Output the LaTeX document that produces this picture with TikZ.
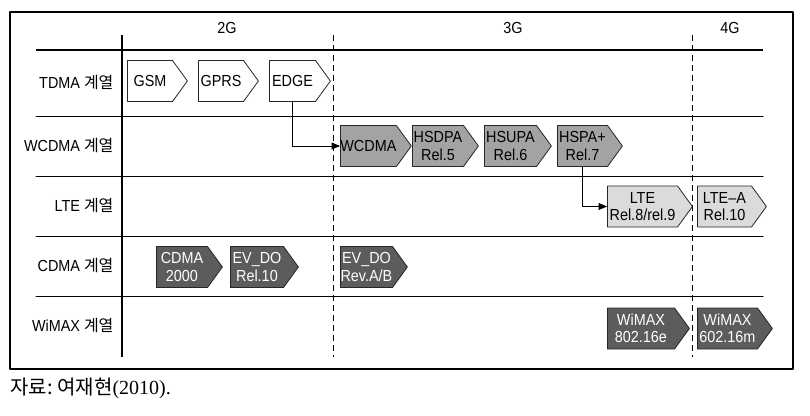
\documentclass[tikz,border=0pt]{standalone}
\usepackage{fontspec}
\setsansfont{Liberation Sans}[FakeStretch=0.9]
\newfontfamily\krfont{Noto Sans CJK KR}
\newfontfamily\capfont{Liberation Serif}
\usepackage{tikz}
\usetikzlibrary{arrows,shapes.symbols}
\definecolor{wgray}{gray}{0.64}
\definecolor{lgray}{gray}{0.86}
\definecolor{dgray}{gray}{0.36}

\begin{document}
\begin{tikzpicture}[line cap=round,line join=round,>=triangle 45,x=1pt,y=-1pt,
  tech/.style={shape=signal,signal to=east,signal pointer angle=108,draw=black!85,line width=0.8pt,
    minimum height=41,inner sep=0pt,anchor=west,align=center,
    font=\sffamily\fontsize{16}{17.5}\selectfont},
  tdma/.style={tech,fill=white},
  wcdma/.style={tech,fill=wgray},
  lte/.style={tech,fill=lgray},
  cdma/.style={tech,fill=dgray,text=white},
  row/.style={anchor=east,font=\sffamily\fontsize{16}{18}\selectfont},
  gen/.style={font=\sffamily\fontsize{16}{18}\selectfont},
  era/.style={dashed,dash pattern=on 6pt off 4pt,line cap=butt,line width=0.8pt}]
\useasboundingbox (0,0) rectangle (810,415);
\draw[line width=1.2pt] (10,12) rectangle (793,369);
\draw[line width=2.8pt,line cap=butt] (36,50)-- (763,50);
\draw[line width=1pt] (36,116)-- (763,116);
\draw[line width=1pt] (36,176)-- (763,176);
\draw[line width=1pt] (36,236)-- (763,236);
\draw[line width=1pt] (36,296)-- (763,296);
\draw[line width=2.4pt,line cap=butt] (122,35)-- (122,357);
\draw[era] (333,35)-- (333,357);
\draw[era] (692,35)-- (692,357);
% generations
\node[gen] (g2) at (227,28) {2G};
\node[gen] (g3) at (513,28) {3G};
\node[gen] (g4) at (730,28) {4G};
% rows
\node[row] (rtdma) at (117,83) {TDMA {\krfont 계열}};
\node[row] (rwcdma) at (117,146) {WCDMA {\krfont 계열}};
\node[row] (rlte) at (117,206) {LTE {\krfont 계열}};
\node[row] (rcdma) at (117,266) {CDMA {\krfont 계열}};
\node[row] (rwimax) at (117,326) {WiMAX {\krfont 계열}};
% boxes
\node[tdma,minimum width=60] (gsm) at (127,81) {GSM};
\node[tdma,minimum width=60] (gprs) at (198,81) {GPRS};
\node[tdma,minimum width=61] (edge) at (269,81) {EDGE};
\node[wcdma,minimum width=65] (wcdma) at (340,146) {WCDMA};
\node[wcdma,minimum width=66] (hsdpa) at (412,146) {HSDPA\\Rel.5};
\node[wcdma,minimum width=67] (hsupa) at (484,146) {HSUPA\\Rel.6};
\node[wcdma,minimum width=65] (hspa) at (557,146) {HSPA+\\Rel.7};
\node[lte,minimum width=85] (lte) at (607,206.5) {LTE\\Rel.8/rel.9};
\node[lte,minimum width=69] (ltea) at (697,206.5) {LTE--A\\Rel.10};
\node[cdma,minimum width=66] (cdma) at (156,267) {CDMA\\2000};
\node[cdma,minimum width=68] (evdo) at (230,267) {EV\_DO\\Rel.10};
\node[cdma,minimum width=67] (evdoab) at (340,267) {EV\_DO\\Rev.A/B};
\node[cdma,minimum width=82] (wimaxe) at (607,328.5) {WiMAX\\802.16e};
\node[cdma,minimum width=75] (wimaxm) at (697,328.5) {WiMAX\\602.16m};
\draw[->,line width=0.9pt] (edge.south) |- (wcdma.west);
\draw[->,line width=0.9pt] (hspa.south) |- (lte.west);
% source
\node[anchor=west,font=\fontsize{20}{22}\selectfont] (src) at (7,388) {{\krfont 자료:\ 여재현}{\capfont(2010).}};
\end{tikzpicture}
\end{document}
